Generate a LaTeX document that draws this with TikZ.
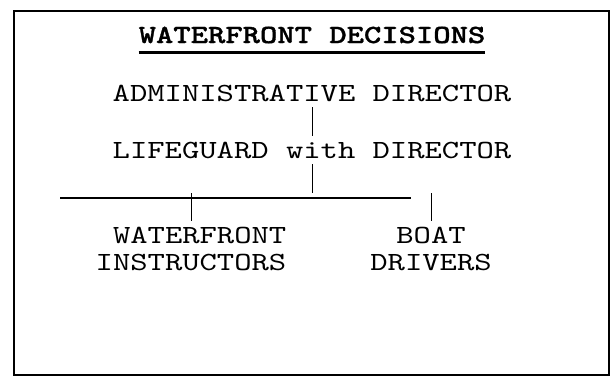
\documentclass[tikz,border=0pt]{standalone}
\usepackage{fontspec}
\newfontfamily\chartfont{lmmono10-regular.otf}[FakeStretch=1.26,BoldFont=lmmonolt10-bold.otf,BoldFeatures={FakeBold=1.2}]
\begin{document}
\begin{tikzpicture}[x=0.5pt,y=-0.5pt,
				every node/.style={font=\chartfont\fontsize{13.1}{13.5}\selectfont,inner sep=0pt,outer sep=3pt},
				link/.style={line width=0.5pt},
				bar/.style={line width=1pt}
]
\useasboundingbox (0,0) rectangle (614,376);
\draw[line width=1pt] (14,11) rectangle (609,375);
\node[anchor=base,outer sep=0pt,font=\chartfont\bfseries\fontsize{13.1}{13.5}\selectfont] (title) at (312,43) {WATERFRONT DECISIONS};
\draw[line width=1.5pt] ([yshift=-4.5pt]title.base west) -- ([yshift=-4.5pt]title.base east);
\node[anchor=base] (admin) at (312,101) {ADMINISTRATIVE DIRECTOR};
\node[anchor=base] (lifeguard) at (312,158) {LIFEGUARD with DIRECTOR};
\node[anchor=base,align=right] (instr) at (191,270) {WATERFRONT\\INSTRUCTORS};
\node[anchor=base,align=center] (boat) at (431,270) {BOAT\\DRIVERS};
\coordinate (split) at (312,193);
\coordinate (barL) at (60,197.5);
\coordinate (barR) at (411,197.5);
\draw[link] (admin) -- (lifeguard);
\draw[link] (lifeguard) -- (split);
\draw[bar] (barL) -- (barR);
\draw[link] (instr.north) -- (instr.north |- split);
\draw[link] (boat.north) -- (boat.north |- split);
\end{tikzpicture}
\end{document}
